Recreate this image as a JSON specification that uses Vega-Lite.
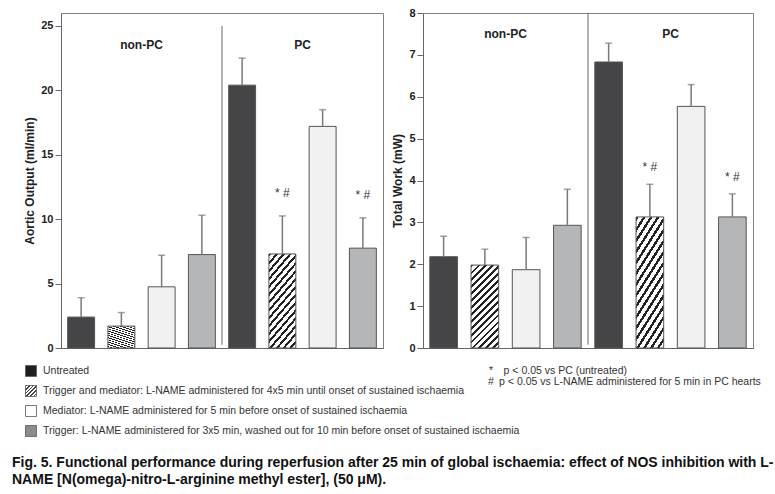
{
  "$schema": "https://vega.github.io/schema/vega-lite/v6.json",
  "padding": {"left": 12, "top": 6, "right": 4, "bottom": 4},
  "autosize": {"type": "pad"},
  "spacing": 7,
  "title": {
    "text": ["Fig. 5. Functional performance during reperfusion after 25 min of global ischaemia: effect of NOS inhibition with L-", "NAME [N(omega)-nitro-L-arginine methyl ester], (50 μM)."],
    "orient": "bottom", "anchor": "start", "frame": "group", "dx": -49, "offset": 15,
    "font": "Liberation Sans", "fontSize": 14, "fontWeight": "bold", "color": "#111", "lineHeight": 17
  },
  "datasets": {
    "aortic": [
      {"group": "non-PC", "treatment": "Untreated", "value": 2.4, "upper": 3.9, "sig": null},
      {"group": "non-PC", "treatment": "Trigger and mediator", "value": 1.7, "upper": 2.75, "sig": null},
      {"group": "non-PC", "treatment": "Mediator", "value": 4.75, "upper": 7.2, "sig": null},
      {"group": "non-PC", "treatment": "Trigger", "value": 7.25, "upper": 10.3, "sig": null},
      {"group": "PC", "treatment": "Untreated", "value": 20.4, "upper": 22.5, "sig": null},
      {"group": "PC", "treatment": "Trigger and mediator", "value": 7.3, "upper": 10.25, "sig": "* #"},
      {"group": "PC", "treatment": "Mediator", "value": 17.2, "upper": 18.5, "sig": null},
      {"group": "PC", "treatment": "Trigger", "value": 7.75, "upper": 10.1, "sig": "* #"}
    ],
    "work": [
      {"group": "non-PC", "treatment": "Untreated", "value": 2.18, "upper": 2.67, "sig": null},
      {"group": "non-PC", "treatment": "Trigger and mediator", "value": 1.98, "upper": 2.36, "sig": null},
      {"group": "non-PC", "treatment": "Mediator", "value": 1.87, "upper": 2.64, "sig": null},
      {"group": "non-PC", "treatment": "Trigger", "value": 2.93, "upper": 3.79, "sig": null},
      {"group": "PC", "treatment": "Untreated", "value": 6.83, "upper": 7.28, "sig": null},
      {"group": "PC", "treatment": "Trigger and mediator", "value": 3.13, "upper": 3.91, "sig": "* #"},
      {"group": "PC", "treatment": "Mediator", "value": 5.77, "upper": 6.29, "sig": null},
      {"group": "PC", "treatment": "Trigger", "value": 3.13, "upper": 3.68, "sig": "* #"}
    ],
    "groups": [{"group": "non-PC"}, {"group": "PC"}],
    "divider": [{"group": "PC"}],
    "legend": [
      {"label": "Untreated", "note": "*\u2002\u2002p < 0.05 vs PC (untreated)"},
      {"label": "Trigger and mediator: L-NAME administered for 4x5 min until onset of sustained ischaemia", "note": "#\u2002p < 0.05 vs L-NAME administered for 5 min in PC hearts"},
      {"label": "Mediator: L-NAME administered for 5 min before onset of sustained ischaemia", "note": null},
      {"label": "Trigger: L-NAME administered for 3x5 min, washed out for 10 min before onset of sustained ischaemia", "note": null}
    ]
  },
  "resolve": {"scale": {"x": "independent", "y": "independent"}},
  "vconcat": [
    {
      "hconcat": [
        {
          "width": 322, "height": 335,
          "layer": [
            {
              "data": {"name": "divider"},
              "mark": {"type": "rule", "color": "#666", "strokeWidth": 1},
              "encoding": {
                "x": {"field": "group", "type": "nominal", "bandPosition": 0, "sort": ["non-PC", "PC"], "scale": {"paddingInner": 0, "paddingOuter": 0}, "axis": {"labels": false, "ticks": false, "title": null}},
                "y": {"datum": 25, "type": "quantitative", "scale": {"domain": [0, 25]}, "axis": {"values": [0, 5, 10, 15, 20, 25], "title": "Aortic Output (ml/min)"}},
                "y2": {"datum": 0.25}
              }
            },
            {
              "data": {"name": "aortic"},
              "mark": {"type": "bar", "stroke": "#555", "strokeWidth": 1},
              "encoding": {
                "x": {"field": "group", "type": "nominal", "sort": ["non-PC", "PC"]},
                "xOffset": {"field": "treatment", "type": "nominal", "sort": ["Untreated", "Trigger and mediator", "Mediator", "Trigger"], "scale": {"paddingInner": 0.33, "paddingOuter": 0.165}},
                "y": {"field": "value", "type": "quantitative", "title": "Aortic Output (ml/min)"},
                "fill": {
                  "condition": [
                    {"test": "datum.treatment === 'Trigger and mediator'", "value": {"gradient": "linear", "x1": 0, "y1": 0, "x2": 0.5, "y2": 1.5, "stops": [
                      {"offset": 0, "color": "#222"}, {"offset": 0.02, "color": "#222"}, {"offset": 0.02, "color": "#fff"}, {"offset": 0.05, "color": "#fff"},
                      {"offset": 0.05, "color": "#222"}, {"offset": 0.07, "color": "#222"}, {"offset": 0.07, "color": "#fff"}, {"offset": 0.1, "color": "#fff"},
                      {"offset": 0.1, "color": "#222"}, {"offset": 0.12, "color": "#222"}, {"offset": 0.12, "color": "#fff"}, {"offset": 0.15, "color": "#fff"},
                      {"offset": 0.15, "color": "#222"}, {"offset": 0.17, "color": "#222"}, {"offset": 0.17, "color": "#fff"}, {"offset": 0.2, "color": "#fff"},
                      {"offset": 0.2, "color": "#222"}, {"offset": 0.22, "color": "#222"}, {"offset": 0.22, "color": "#fff"}, {"offset": 0.25, "color": "#fff"},
                      {"offset": 0.25, "color": "#222"}, {"offset": 0.27, "color": "#222"}, {"offset": 0.27, "color": "#fff"}, {"offset": 0.3, "color": "#fff"},
                      {"offset": 0.3, "color": "#222"}, {"offset": 0.32, "color": "#222"}, {"offset": 0.32, "color": "#fff"}, {"offset": 0.35, "color": "#fff"},
                      {"offset": 0.35, "color": "#222"}, {"offset": 0.37, "color": "#222"}, {"offset": 0.37, "color": "#fff"}, {"offset": 0.4, "color": "#fff"},
                      {"offset": 0.4, "color": "#222"}, {"offset": 0.42, "color": "#222"}, {"offset": 0.42, "color": "#fff"}, {"offset": 0.45, "color": "#fff"},
                      {"offset": 0.45, "color": "#222"}, {"offset": 0.47, "color": "#222"}, {"offset": 0.47, "color": "#fff"}, {"offset": 0.5, "color": "#fff"},
                      {"offset": 0.5, "color": "#222"}, {"offset": 0.52, "color": "#222"}, {"offset": 0.52, "color": "#fff"}, {"offset": 0.55, "color": "#fff"},
                      {"offset": 0.55, "color": "#222"}, {"offset": 0.57, "color": "#222"}, {"offset": 0.57, "color": "#fff"}, {"offset": 0.6, "color": "#fff"},
                      {"offset": 0.6, "color": "#222"}, {"offset": 0.62, "color": "#222"}, {"offset": 0.62, "color": "#fff"}, {"offset": 0.65, "color": "#fff"},
                      {"offset": 0.65, "color": "#222"}, {"offset": 0.67, "color": "#222"}, {"offset": 0.67, "color": "#fff"}, {"offset": 0.7, "color": "#fff"},
                      {"offset": 0.7, "color": "#222"}, {"offset": 0.72, "color": "#222"}, {"offset": 0.72, "color": "#fff"}, {"offset": 0.75, "color": "#fff"},
                      {"offset": 0.75, "color": "#222"}, {"offset": 0.77, "color": "#222"}, {"offset": 0.77, "color": "#fff"}, {"offset": 0.8, "color": "#fff"},
                      {"offset": 0.8, "color": "#222"}, {"offset": 0.82, "color": "#222"}, {"offset": 0.82, "color": "#fff"}, {"offset": 0.85, "color": "#fff"},
                      {"offset": 0.85, "color": "#222"}, {"offset": 0.87, "color": "#222"}, {"offset": 0.87, "color": "#fff"}, {"offset": 0.9, "color": "#fff"},
                      {"offset": 0.9, "color": "#222"}, {"offset": 0.92, "color": "#222"}, {"offset": 0.92, "color": "#fff"}, {"offset": 0.95, "color": "#fff"},
                      {"offset": 0.95, "color": "#222"}, {"offset": 0.97, "color": "#222"}, {"offset": 0.97, "color": "#fff"}, {"offset": 1, "color": "#fff"}
                    ]}},
                    {"test": "datum.treatment === 'Mediator'", "value": "#f1f1f1"},
                    {"test": "datum.treatment === 'Trigger'", "value": "#b5b6b8"}
                  ],
                  "value": "#454548"
                }
              }
            },
            {
              "data": {"name": "aortic"},
              "mark": {"type": "rule", "color": "#7a7a7a", "strokeWidth": 1.5},
              "encoding": {
                "x": {"field": "group", "type": "nominal", "sort": ["non-PC", "PC"]},
                "xOffset": {"field": "treatment", "type": "nominal", "sort": ["Untreated", "Trigger and mediator", "Mediator", "Trigger"]},
                "y": {"field": "value", "type": "quantitative", "title": "Aortic Output (ml/min)"},
                "y2": {"field": "upper"}
              }
            },
            {
              "data": {"name": "aortic"},
              "mark": {"type": "tick", "color": "#7a7a7a", "thickness": 1.5, "size": 7},
              "encoding": {
                "x": {"field": "group", "type": "nominal", "sort": ["non-PC", "PC"]},
                "xOffset": {"field": "treatment", "type": "nominal", "sort": ["Untreated", "Trigger and mediator", "Mediator", "Trigger"]},
                "y": {"field": "upper", "type": "quantitative", "title": "Aortic Output (ml/min)"}
              }
            },
            {
              "data": {"name": "aortic"},
              "transform": [{"filter": "datum.sig"}],
              "mark": {"type": "text", "font": "Liberation Sans", "fontSize": 12, "color": "#333", "dy": -23},
              "encoding": {
                "x": {"field": "group", "type": "nominal", "sort": ["non-PC", "PC"]},
                "xOffset": {"field": "treatment", "type": "nominal", "sort": ["Untreated", "Trigger and mediator", "Mediator", "Trigger"]},
                "y": {"field": "upper", "type": "quantitative", "title": "Aortic Output (ml/min)"},
                "text": {"field": "sig"}
              }
            },
            {
              "data": {"name": "groups"},
              "mark": {"type": "text", "font": "Liberation Sans", "fontSize": 12, "fontWeight": "bold", "color": "#222"},
              "encoding": {
                "x": {"field": "group", "type": "nominal", "sort": ["non-PC", "PC"]},
                "y": {"datum": 23.5, "type": "quantitative", "title": "Aortic Output (ml/min)"},
                "text": {"field": "group"}
              }
            }
          ]
        },
        {
          "width": 330, "height": 335,
          "layer": [
            {
              "data": {"name": "divider"},
              "mark": {"type": "rule", "color": "#666", "strokeWidth": 1},
              "encoding": {
                "x": {"field": "group", "type": "nominal", "bandPosition": 0, "sort": ["non-PC", "PC"], "scale": {"paddingInner": 0, "paddingOuter": 0}, "axis": {"labels": false, "ticks": false, "title": null}},
                "y": {"datum": 8, "type": "quantitative", "scale": {"domain": [0, 8]}, "axis": {"values": [0, 1, 2, 3, 4, 5, 6, 7, 8], "title": "Total Work (mW)"}},
                "y2": {"datum": 0.08}
              }
            },
            {
              "data": {"name": "work"},
              "mark": {"type": "bar", "stroke": "#555", "strokeWidth": 1},
              "encoding": {
                "x": {"field": "group", "type": "nominal", "sort": ["non-PC", "PC"]},
                "xOffset": {"field": "treatment", "type": "nominal", "sort": ["Untreated", "Trigger and mediator", "Mediator", "Trigger"], "scale": {"paddingInner": 0.33, "paddingOuter": 0.165}},
                "y": {"field": "value", "type": "quantitative", "title": "Total Work (mW)"},
                "fill": {
                  "condition": [
                    {"test": "datum.treatment === 'Trigger and mediator'", "value": {"gradient": "linear", "x1": 0, "y1": 0, "x2": 0.5, "y2": 1.5, "stops": [
                      {"offset": 0, "color": "#222"}, {"offset": 0.02, "color": "#222"}, {"offset": 0.02, "color": "#fff"}, {"offset": 0.05, "color": "#fff"},
                      {"offset": 0.05, "color": "#222"}, {"offset": 0.07, "color": "#222"}, {"offset": 0.07, "color": "#fff"}, {"offset": 0.1, "color": "#fff"},
                      {"offset": 0.1, "color": "#222"}, {"offset": 0.12, "color": "#222"}, {"offset": 0.12, "color": "#fff"}, {"offset": 0.15, "color": "#fff"},
                      {"offset": 0.15, "color": "#222"}, {"offset": 0.17, "color": "#222"}, {"offset": 0.17, "color": "#fff"}, {"offset": 0.2, "color": "#fff"},
                      {"offset": 0.2, "color": "#222"}, {"offset": 0.22, "color": "#222"}, {"offset": 0.22, "color": "#fff"}, {"offset": 0.25, "color": "#fff"},
                      {"offset": 0.25, "color": "#222"}, {"offset": 0.27, "color": "#222"}, {"offset": 0.27, "color": "#fff"}, {"offset": 0.3, "color": "#fff"},
                      {"offset": 0.3, "color": "#222"}, {"offset": 0.32, "color": "#222"}, {"offset": 0.32, "color": "#fff"}, {"offset": 0.35, "color": "#fff"},
                      {"offset": 0.35, "color": "#222"}, {"offset": 0.37, "color": "#222"}, {"offset": 0.37, "color": "#fff"}, {"offset": 0.4, "color": "#fff"},
                      {"offset": 0.4, "color": "#222"}, {"offset": 0.42, "color": "#222"}, {"offset": 0.42, "color": "#fff"}, {"offset": 0.45, "color": "#fff"},
                      {"offset": 0.45, "color": "#222"}, {"offset": 0.47, "color": "#222"}, {"offset": 0.47, "color": "#fff"}, {"offset": 0.5, "color": "#fff"},
                      {"offset": 0.5, "color": "#222"}, {"offset": 0.52, "color": "#222"}, {"offset": 0.52, "color": "#fff"}, {"offset": 0.55, "color": "#fff"},
                      {"offset": 0.55, "color": "#222"}, {"offset": 0.57, "color": "#222"}, {"offset": 0.57, "color": "#fff"}, {"offset": 0.6, "color": "#fff"},
                      {"offset": 0.6, "color": "#222"}, {"offset": 0.62, "color": "#222"}, {"offset": 0.62, "color": "#fff"}, {"offset": 0.65, "color": "#fff"},
                      {"offset": 0.65, "color": "#222"}, {"offset": 0.67, "color": "#222"}, {"offset": 0.67, "color": "#fff"}, {"offset": 0.7, "color": "#fff"},
                      {"offset": 0.7, "color": "#222"}, {"offset": 0.72, "color": "#222"}, {"offset": 0.72, "color": "#fff"}, {"offset": 0.75, "color": "#fff"},
                      {"offset": 0.75, "color": "#222"}, {"offset": 0.77, "color": "#222"}, {"offset": 0.77, "color": "#fff"}, {"offset": 0.8, "color": "#fff"},
                      {"offset": 0.8, "color": "#222"}, {"offset": 0.82, "color": "#222"}, {"offset": 0.82, "color": "#fff"}, {"offset": 0.85, "color": "#fff"},
                      {"offset": 0.85, "color": "#222"}, {"offset": 0.87, "color": "#222"}, {"offset": 0.87, "color": "#fff"}, {"offset": 0.9, "color": "#fff"},
                      {"offset": 0.9, "color": "#222"}, {"offset": 0.92, "color": "#222"}, {"offset": 0.92, "color": "#fff"}, {"offset": 0.95, "color": "#fff"},
                      {"offset": 0.95, "color": "#222"}, {"offset": 0.97, "color": "#222"}, {"offset": 0.97, "color": "#fff"}, {"offset": 1, "color": "#fff"}
                    ]}},
                    {"test": "datum.treatment === 'Mediator'", "value": "#f1f1f1"},
                    {"test": "datum.treatment === 'Trigger'", "value": "#b5b6b8"}
                  ],
                  "value": "#454548"
                }
              }
            },
            {
              "data": {"name": "work"},
              "mark": {"type": "rule", "color": "#7a7a7a", "strokeWidth": 1.5},
              "encoding": {
                "x": {"field": "group", "type": "nominal", "sort": ["non-PC", "PC"]},
                "xOffset": {"field": "treatment", "type": "nominal", "sort": ["Untreated", "Trigger and mediator", "Mediator", "Trigger"]},
                "y": {"field": "value", "type": "quantitative", "title": "Total Work (mW)"},
                "y2": {"field": "upper"}
              }
            },
            {
              "data": {"name": "work"},
              "mark": {"type": "tick", "color": "#7a7a7a", "thickness": 1.5, "size": 7},
              "encoding": {
                "x": {"field": "group", "type": "nominal", "sort": ["non-PC", "PC"]},
                "xOffset": {"field": "treatment", "type": "nominal", "sort": ["Untreated", "Trigger and mediator", "Mediator", "Trigger"]},
                "y": {"field": "upper", "type": "quantitative", "title": "Total Work (mW)"}
              }
            },
            {
              "data": {"name": "work"},
              "transform": [{"filter": "datum.sig"}],
              "mark": {"type": "text", "font": "Liberation Sans", "fontSize": 12, "color": "#333", "dy": -17},
              "encoding": {
                "x": {"field": "group", "type": "nominal", "sort": ["non-PC", "PC"]},
                "xOffset": {"field": "treatment", "type": "nominal", "sort": ["Untreated", "Trigger and mediator", "Mediator", "Trigger"]},
                "y": {"field": "upper", "type": "quantitative", "title": "Total Work (mW)"},
                "text": {"field": "sig"}
              }
            },
            {
              "data": {"name": "groups"},
              "mark": {"type": "text", "font": "Liberation Sans", "fontSize": 12, "fontWeight": "bold", "color": "#222"},
              "encoding": {
                "x": {"field": "group", "type": "nominal", "sort": ["non-PC", "PC"]},
                "y": {"datum": 7.5, "type": "quantitative", "title": "Total Work (mW)"},
                "text": {"field": "group"}
              }
            }
          ]
        }
      ],
      "spacing": 40,
      "bounds": "flush",
      "resolve": {"scale": {"x": "independent", "y": "independent", "xOffset": "independent"}}
    },
    {
      "width": 700, "height": 80,
      "view": {"stroke": null},
      "data": {"name": "legend"},
      "encoding": {
        "y": {"field": "label", "type": "nominal", "sort": null, "axis": null, "scale": {"type": "point", "padding": 0.5}}
      },
      "layer": [
        {
          "mark": {"type": "square", "size": 120, "stroke": "#555", "strokeWidth": 0.8, "opacity": 1},
          "encoding": {
            "x": {"value": -30},
            "fill": {
              "condition": [
                {"test": "datum.label === 'Untreated'", "value": "#1e1e1e"},
                {"test": "indexof(datum.label, 'Trigger and mediator') === 0", "value": {"gradient": "linear", "x1": 0, "y1": 0, "x2": 1, "y2": 1, "stops": [
                  {"offset": 0, "color": "#444"}, {"offset": 0.07, "color": "#444"}, {"offset": 0.07, "color": "#fff"}, {"offset": 0.166, "color": "#fff"},
                  {"offset": 0.166, "color": "#444"}, {"offset": 0.236, "color": "#444"}, {"offset": 0.236, "color": "#fff"}, {"offset": 0.333, "color": "#fff"},
                  {"offset": 0.333, "color": "#444"}, {"offset": 0.403, "color": "#444"}, {"offset": 0.403, "color": "#fff"}, {"offset": 0.5, "color": "#fff"},
                  {"offset": 0.5, "color": "#444"}, {"offset": 0.57, "color": "#444"}, {"offset": 0.57, "color": "#fff"}, {"offset": 0.666, "color": "#fff"},
                  {"offset": 0.666, "color": "#444"}, {"offset": 0.736, "color": "#444"}, {"offset": 0.736, "color": "#fff"}, {"offset": 0.833, "color": "#fff"},
                  {"offset": 0.833, "color": "#444"}, {"offset": 0.903, "color": "#444"}, {"offset": 0.903, "color": "#fff"}, {"offset": 1, "color": "#fff"}
                ]}},
                {"test": "indexof(datum.label, 'Mediator') === 0", "value": "#ffffff"}
              ],
              "value": "#8c8c8c"
            }
          }
        },
        {
          "mark": {"type": "text", "align": "left", "font": "Liberation Sans", "fontSize": 10.5, "color": "#333"},
          "encoding": {"x": {"value": -18}, "text": {"field": "label"}}
        },
        {
          "transform": [{"filter": "datum.label === 'Untreated'"}],
          "mark": {"type": "text", "align": "left", "font": "Liberation Sans", "fontSize": 10.5, "color": "#333"},
          "encoding": {"x": {"value": 428}, "text": {"field": "note"}}
        },
        {
          "transform": [{"filter": "indexof(datum.label, 'Trigger and mediator') === 0"}],
          "mark": {"type": "text", "align": "left", "font": "Liberation Sans", "fontSize": 10.5, "color": "#333", "dy": -9},
          "encoding": {"x": {"value": 427}, "text": {"field": "note"}}
        }
      ]
    }
  ],
  "config": {
    "font": "Liberation Sans",
    "view": {"stroke": "#808080", "strokeWidth": 1},
    "axisY": {
      "labelFont": "Liberation Sans", "labelFontWeight": "bold", "labelFontSize": 11, "labelColor": "#222",
      "tickColor": "#666", "tickSize": 6, "domainColor": "#666", "grid": false, "labelPadding": 2,
      "titleFont": "Liberation Sans", "titleFontWeight": "bold", "titleFontSize": 12, "titleColor": "#222", "titlePadding": 4
    },
    "axisX": {"labels": false, "ticks": false, "title": null, "domainColor": "#666", "grid": false}
  }
}
